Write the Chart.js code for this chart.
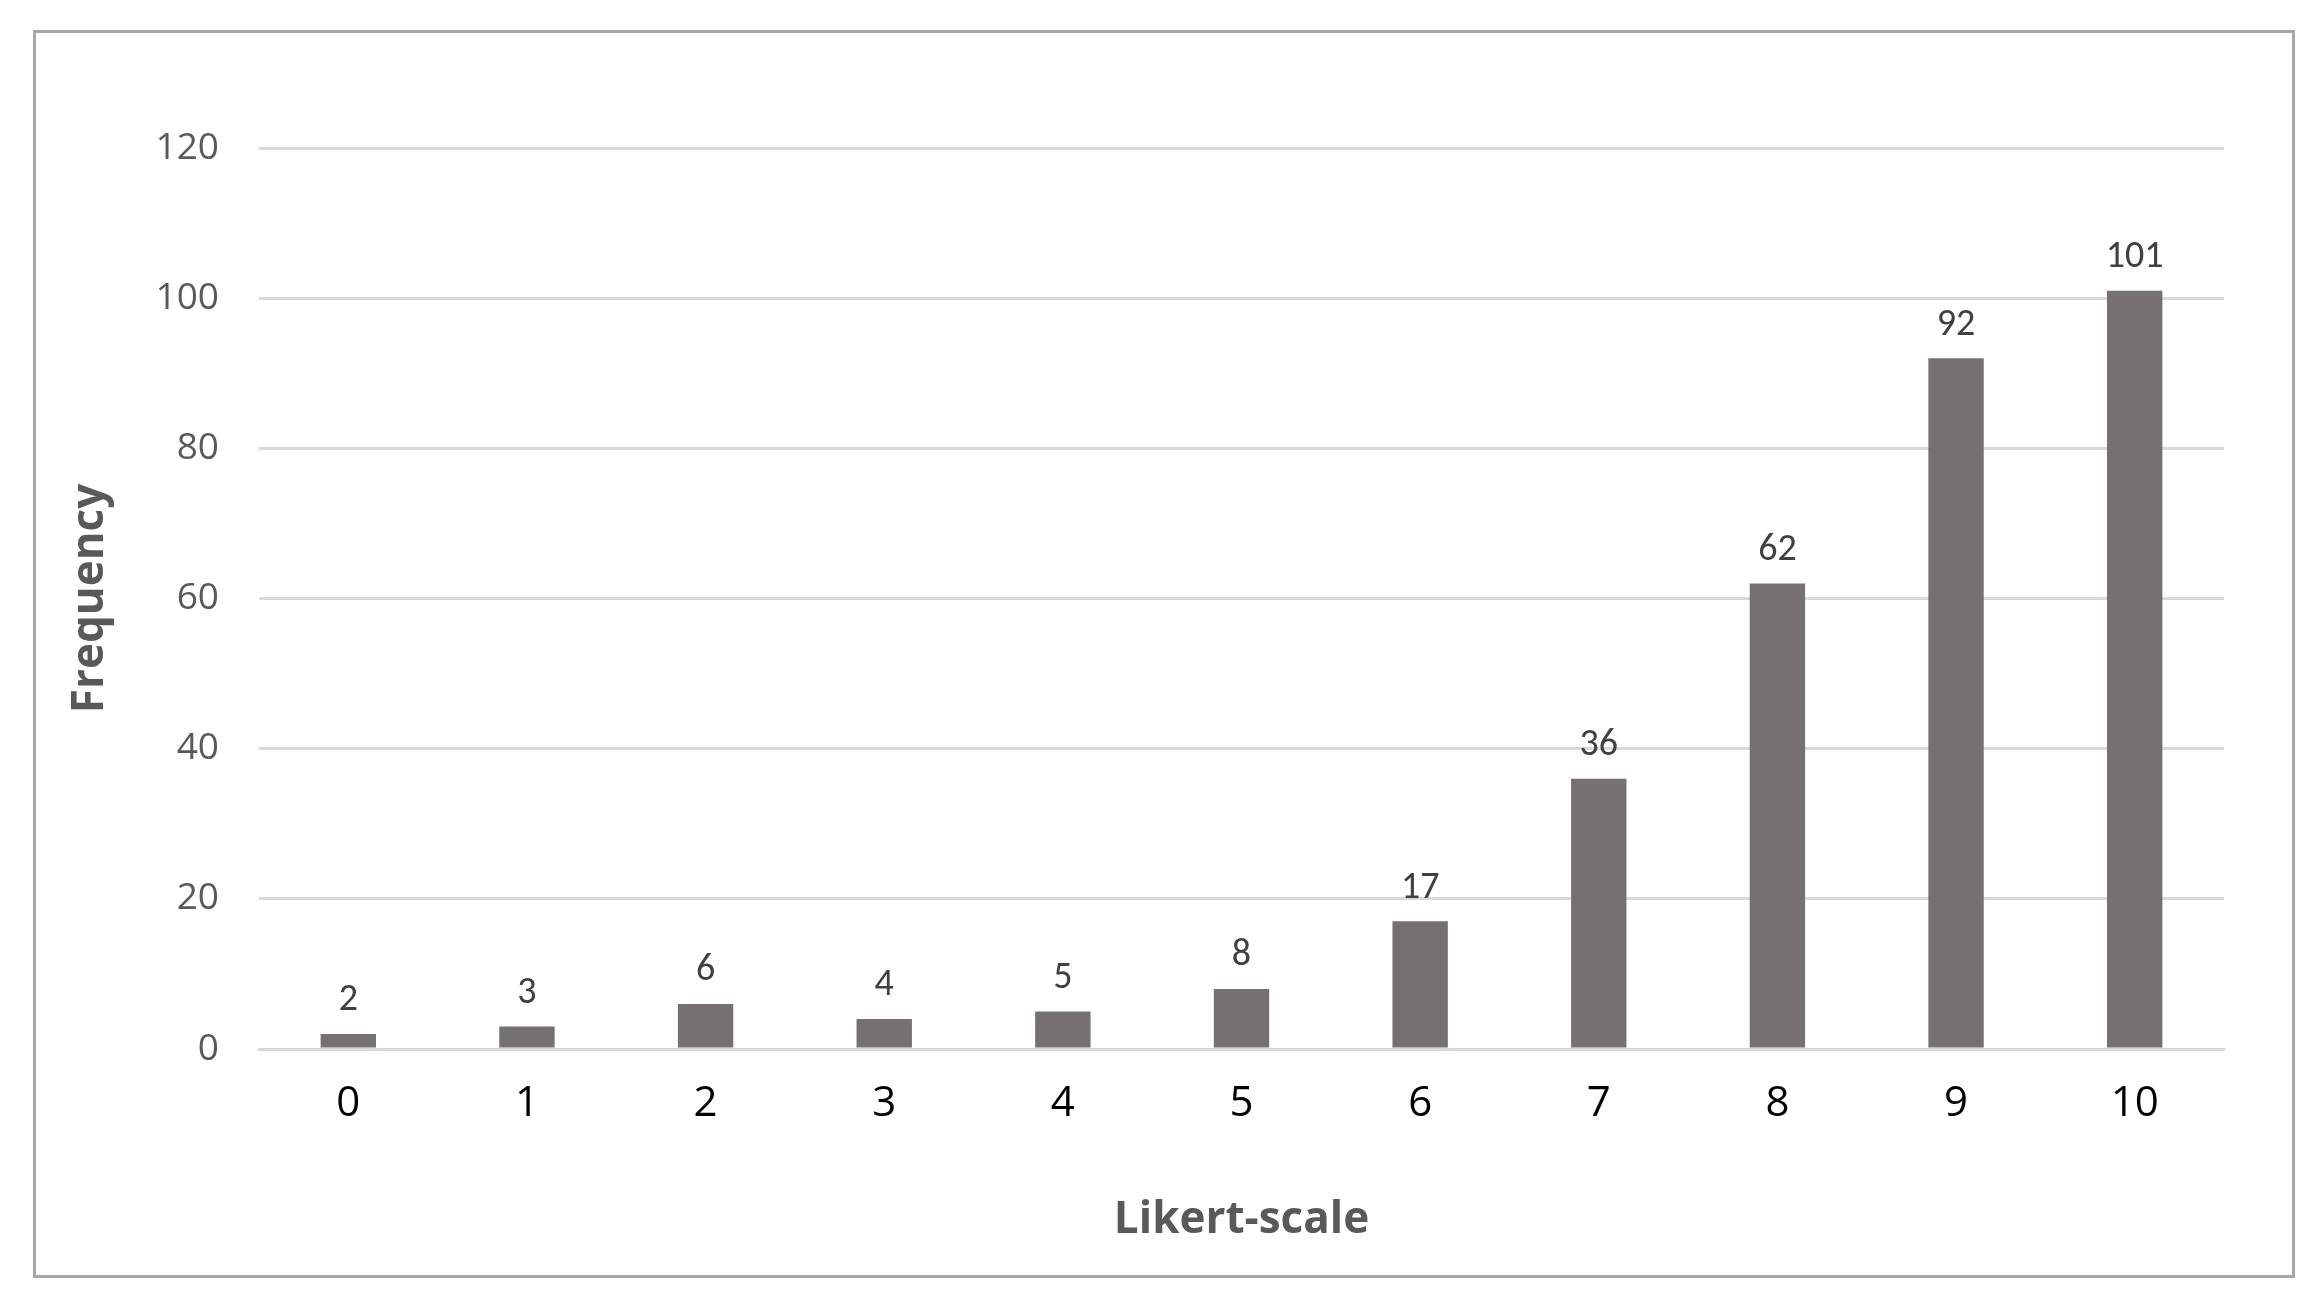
<!DOCTYPE html>
<html>
<head>
<meta charset="utf-8">
<script src="https://cdn.jsdelivr.net/npm/chart.js@4"></script>
<style>
  body { margin: 0; background: #fff; }
  #frame { position: absolute; left: 33px; top: 30px; width: 2256px; height: 1242px; border: 3px solid #a6a6a6; }
  #wrap { position: absolute; left: 0; top: 0; width: 2317px; height: 1309px; }
</style>
</head>
<body>
<div id="frame"></div>
<div id="wrap"><canvas id="chart"></canvas></div>
<script>
// valeurs
const categories = ["0", "1", "2", "3", "4", "5", "6", "7", "8", "9", "10"];
const frequencies = [2, 3, 6, 4, 5, 8, 17, 36, 62, 92, 101];
const yTicks = [0, 20, 40, 60, 80, 100, 120];

// étiquettes au-dessus des barres
const barLabels = {
  id: "barLabels",
  afterDatasetsDraw(chart) {
    const ctx = chart.ctx;
    ctx.save();
    ctx.font = "38px Calibri, Carlito, 'Open Sans', sans-serif";
    ctx.fillStyle = "#404040";
    ctx.textAlign = "center";
    ctx.textBaseline = "bottom";
    chart.getDatasetMeta(0).data.forEach((bar, i) => {
      ctx.fillText(frequencies[i], bar.x, bar.y - 14);
    });
    ctx.restore();
  }
};

const ctx = document.getElementById("chart").getContext("2d");
new Chart(ctx, {
  type: "bar",
  data: {
    labels: categories,
    datasets: [{
      data: frequencies,
      backgroundColor: "#767070",
      categoryPercentage: 1,
      barPercentage: 0.31,
    }],
  },
  options: {
    responsive: true,
    maintainAspectRatio: false,
    animation: false,
    layout: { padding: { left: 60, top: 148, right: 93, bottom: 58 } },
    plugins: { legend: { display: false }, tooltip: { enabled: false } },
    scales: {
      x: {
        grid: { display: false },
        border: { color: "#d9d9d9", width: 3 },
        ticks: { color: "#000", font: { size: 42, family: "'Open Sans', sans-serif" }, padding: 22 },
        title: { display: true, text: "Likert-scale", color: "#595959", font: { size: 44, weight: "bold", family: "'Open Sans', sans-serif" } },
        afterFit(scale) { scale.height = 1309 - 58 - 1049; },
      },
      y: {
        min: 0, max: 120,
        afterBuildTicks(scale) { scale.ticks = yTicks.map(v => ({ value: v })); },
        grid: { color: "#d9d9d9", lineWidth: 3, drawTicks: false },
        border: { display: false },
        ticks: { color: "#595959", font: { size: 37, family: "'Open Sans', sans-serif" }, padding: 40 },
        title: { display: true, text: "Frequency", color: "#595959", font: { size: 44, weight: "bold", family: "'Open Sans', sans-serif" } },
        afterFit(scale) { scale.width = 259 - 60; },
      },
    },
  },
  plugins: [barLabels],
});
</script>
</body>
</html>
